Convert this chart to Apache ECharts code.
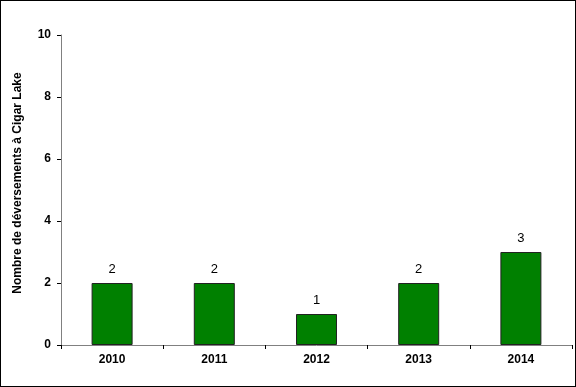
<!DOCTYPE html>
<html><head><meta charset="utf-8">
<script src="https://cdn.jsdelivr.net/npm/echarts@6/dist/echarts.min.js"></script>
<style>html,body{margin:0;padding:0;background:#fff}#c{width:576px;height:387px;box-sizing:border-box;border:1px solid #000}</style>
</head><body><div id="c"></div>
<script>
var categories = ['2010','2011','2012','2013','2014'];
var values = [2, 2, 1, 2, 3];
var yTicks = [0, 2, 4, 6, 8, 10];
var chart = echarts.init(document.getElementById('c'));
chart.setOption({
  animation: false,
  grid: {left: 60, right: 3, top: 34, bottom: 41},
  xAxis: {
    type: 'category', data: categories,
    axisLine: {lineStyle: {color: '#808080', width: 1}},
    axisTick: {show: true, length: 4, lineStyle: {color: '#000'}},
    axisLabel: {color: '#000', fontFamily: 'Liberation Sans', fontWeight: 'bold', fontSize: 12, margin: 9}
  },
  yAxis: {
    type: 'value', min: 0, max: 10, interval: 2,
    name: 'Nombre de déversements à Cigar Lake', nameLocation: 'middle', nameGap: 37,
    nameTextStyle: {color: '#000', fontFamily: 'Liberation Sans', fontWeight: 'bold', fontSize: 12, padding: [0, 0, 0, 14]},
    splitLine: {show: false},
    axisLine: {show: true, lineStyle: {color: '#808080', width: 1}},
    axisTick: {show: true, length: 4, lineStyle: {color: '#000'}},
    axisLabel: {color: '#000', fontFamily: 'Liberation Sans', fontWeight: 'bold', fontSize: 12, margin: 10}
  },
  series: [{
    type: 'bar', data: values, barWidth: 41,
    itemStyle: {color: '#008000', borderColor: '#222', borderWidth: 1},
    label: {show: true, position: 'top', color: '#000', fontFamily: 'Liberation Sans', fontSize: 13, distance: 7}
  }]
});
</script></body></html>
